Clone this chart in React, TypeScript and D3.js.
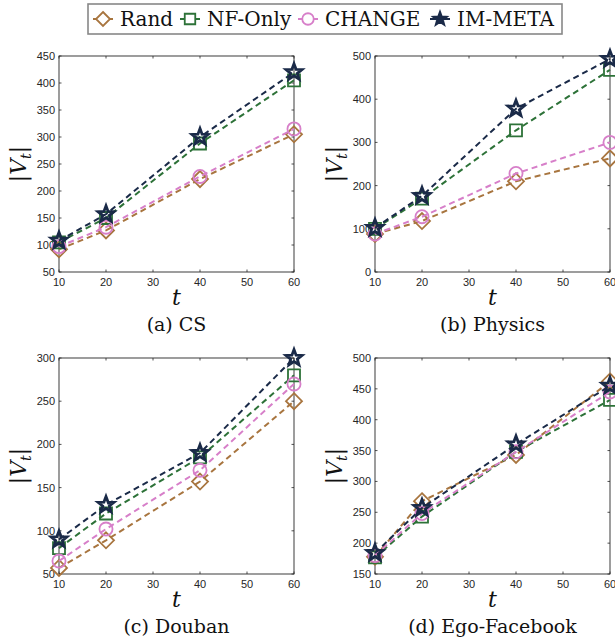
import React, { useEffect } from 'react';
import * as d3 from 'd3';

const W = 615;
const H = 642;

const tValues = [10, 20, 40, 60];
const xTicks = [10, 20, 30, 40, 50, 60];
const seriesNames = ['Rand', 'NF-Only', 'CHANGE', 'IM-META'];
const seriesColors = ['#A8753F', '#2D7238', '#D77FC9', '#1A2A48'];
const seriesMarkers = ['diamond', 'square', 'circle', 'star'];

// (a) CS
const csRand = [92, 127, 222, 305];
const csNF = [105, 150, 288, 405];
const csChange = [97, 133, 227, 315];
const csIM = [108, 157, 300, 420];
const csTicks = [50, 100, 150, 200, 250, 300, 350, 400, 450];

// (b) Physics
const phRand = [88, 118, 210, 263];
const phNF = [100, 170, 328, 468];
const phChange = [88, 128, 228, 300];
const phIM = [102, 176, 378, 493];
const phTicks = [0, 100, 200, 300, 400, 500];

// (c) Douban
const dbRand = [57, 89, 157, 250];
const dbNF = [80, 120, 185, 280];
const dbChange = [65, 102, 170, 270];
const dbIM = [90, 130, 190, 300];
const dbTicks = [50, 100, 150, 200, 250, 300];

// (d) Ego-Facebook
const egRand = [178, 268, 343, 462];
const egNF = [177, 243, 348, 432];
const egChange = [180, 248, 348, 445];
const egIM = [184, 257, 360, 455];
const egTicks = [150, 200, 250, 300, 350, 400, 450, 500];

const panels = [
  { caption: '(a) CS', series: [csRand, csNF, csChange, csIM], yTicks: csTicks, left: 59, top: 56 },
  { caption: '(b) Physics', series: [phRand, phNF, phChange, phIM], yTicks: phTicks, left: 375, top: 56 },
  { caption: '(c) Douban', series: [dbRand, dbNF, dbChange, dbIM], yTicks: dbTicks, left: 59, top: 358 },
  { caption: '(d) Ego-Facebook', series: [egRand, egNF, egChange, egIM], yTicks: egTicks, left: 375, top: 358 },
];

const PW = 235;
const PH = 216;
const AXIS = '#262626';
const SERIF = '"DejaVu Serif", "Liberation Serif", serif';
const SANS = '"Liberation Sans", Arial, Helvetica, sans-serif';

function markerPath(kind: string, cx: number, cy: number, s: number): string {
  const p = d3.path();
  if (kind === 'diamond') {
    p.moveTo(cx, cy - s);
    p.lineTo(cx + s, cy);
    p.lineTo(cx, cy + s);
    p.lineTo(cx - s, cy);
    p.closePath();
  } else if (kind === 'square') {
    const h = s * 0.75;
    p.rect(cx - h, cy - h, 2 * h, 2 * h);
  } else if (kind === 'circle') {
    const r = s * 0.82;
    p.moveTo(cx + r, cy);
    p.arc(cx, cy, r, 0, Math.PI * 2);
    p.closePath();
  } else {
    const R = s * 1.05;
    const r = R * 0.42;
    for (let i = 0; i < 10; i++) {
      const a = -Math.PI / 2 + (i * Math.PI) / 5;
      const rr = i % 2 === 0 ? R : r;
      const x = cx + rr * Math.cos(a);
      const y = cy + rr * Math.sin(a);
      if (i === 0) p.moveTo(x, y);
      else p.lineTo(x, y);
    }
    p.closePath();
  }
  return p.toString();
}

function Panel({ caption, series, yTicks, left, top }: any) {
  const x = d3.scaleLinear().domain([10, 60]).range([left, left + PW]);
  const y = d3
    .scaleLinear()
    .domain([yTicks[0], yTicks[yTicks.length - 1]])
    .range([top + PH, top]);
  const bottom = top + PH;
  const right = left + PW;
  const cx = left + PW / 2;
  const cy = top + PH / 2;
  const tl = 2.5;
  return (
    <g>
      {xTicks.map((t) => (
        <g key={'xt' + t}>
          <line x1={x(t)} x2={x(t)} y1={bottom} y2={bottom - tl} stroke={AXIS} strokeWidth={0.8} />
          <line x1={x(t)} x2={x(t)} y1={top} y2={top + tl} stroke={AXIS} strokeWidth={0.8} />
          <text x={x(t)} y={bottom + 14} textAnchor="middle" fontFamily={SANS} fontSize={11} fill={AXIS}>
            {t}
          </text>
        </g>
      ))}
      {yTicks.map((t: number) => (
        <g key={'yt' + t}>
          <line x1={left} x2={left + tl} y1={y(t)} y2={y(t)} stroke={AXIS} strokeWidth={0.8} />
          <line x1={right} x2={right - tl} y1={y(t)} y2={y(t)} stroke={AXIS} strokeWidth={0.8} />
          <text x={left - 4} y={y(t)} dy="0.36em" textAnchor="end" fontFamily={SANS} fontSize={11} fill={AXIS}>
            {t}
          </text>
        </g>
      ))}
      <rect x={left} y={top} width={PW} height={PH} fill="none" stroke={AXIS} strokeWidth={0.9} />
      {series.map((vals: number[], si: number) => {
        const line = d3
          .line<number>()
          .x((_, i) => x(tValues[i]))
          .y((v) => y(v));
        return (
          <g key={'s' + si}>
            <path
              d={line(vals) || ''}
              fill="none"
              stroke={seriesColors[si]}
              strokeWidth={2}
              strokeDasharray="6,4"
            />
            {vals.map((v, i) => (
              <path
                key={i}
                d={markerPath(seriesMarkers[si], x(tValues[i]), y(v), 8)}
                fill="none"
                stroke={seriesColors[si]}
                strokeWidth={si === 3 ? 2.8 : 1.8}
                strokeLinejoin="miter"
              />
            ))}
          </g>
        );
      })}
      <text x={cx} y={bottom + 33} textAnchor="middle" fontFamily={SERIF} fontStyle="italic" fontSize={22} fill="#111">
        t
      </text>
      <text x={cx} y={bottom + 59} textAnchor="middle" fontFamily={SERIF} fontSize={19} fill="#111">
        {caption}
      </text>
      <text
        transform={`translate(${left - 33},${cy}) rotate(-90)`}
        textAnchor="middle"
        fontFamily={SERIF}
        fontSize={22}
        fill="#111"
      >
        |<tspan fontStyle="italic">V</tspan>
        <tspan fontStyle="italic" fontSize={14} dy={5}>t</tspan>
        <tspan dy={-5}>|</tspan>
      </text>
    </g>
  );
}

const legendMarkerX = [103, 190, 308, 440];

function Legend() {
  return (
    <g>
      <rect x={88} y={4} width={474} height={30} fill="#fff" stroke="#888" strokeWidth={1.6} />
      {seriesNames.map((name, i) => (
        <g key={name}>
          <line
            x1={legendMarkerX[i] - 10}
            x2={legendMarkerX[i] + 10}
            y1={19}
            y2={19}
            stroke={seriesColors[i]}
            strokeWidth={2}
          />
          <path
            d={markerPath(seriesMarkers[i], legendMarkerX[i], 19, 7)}
            fill={i === 3 ? seriesColors[i] : '#fff'}
            stroke={seriesColors[i]}
            strokeWidth={1.8}
          />
          <text x={legendMarkerX[i] + 17} y={26} fontFamily={SERIF} fontSize={20} fill="#111">
            {name}
          </text>
        </g>
      ))}
    </g>
  );
}

export default function App() {
  useEffect(() => {
    document.body.style.margin = '0';
  }, []);
  return (
    <svg width={W} height={H} viewBox={`0 0 ${W} ${H}`} style={{ display: 'block', background: '#fff' }}>
      <rect x={0} y={0} width={W} height={H} fill="#fff" />
      {panels.map((p) => (
        <Panel key={p.caption} {...p} />
      ))}
      <Legend />
    </svg>
  );
}
